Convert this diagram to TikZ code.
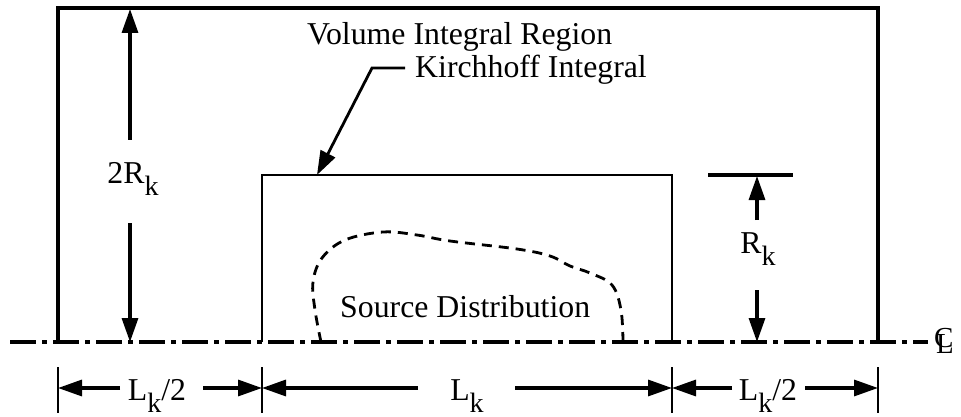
\documentclass[tikz,border=0pt]{standalone}
\usepackage{fontspec}
\setmainfont{Liberation Serif}
\usetikzlibrary{arrows.meta}
\newcommand{\ksub}{\raisebox{-12pt}{\fontsize{28}{28}\selectfont k}}
\begin{document}
\begin{tikzpicture}[x=1pt,y=-1pt,
  lbl/.style={font=\fontsize{31.8}{36}\selectfont, inner sep=0pt},
  boxline/.style={line width=3.4pt, line join=miter},
  dimarrow/.style={line width=3.2pt,-{Triangle[length=24pt,width=16pt]}},
  tickline/.style={line width=2.8pt},
  cline/.style={line width=3.2pt, dash pattern=on 26pt off 6pt on 5pt off 6pt},
  srcline/.style={line width=2.8pt, dash pattern=on 10pt off 7pt}]
\useasboundingbox (0,0) rectangle (961,417);
% boxes
\coordinate (o1) at (58,342); \coordinate (o2) at (58,8);
\coordinate (o3) at (878,8);  \coordinate (o4) at (878,342);
\coordinate (i1) at (262,342); \coordinate (i2) at (262,175);
\coordinate (i3) at (672,175); \coordinate (i4) at (672,342);
\draw[boxline] (o1) -- (o2) -- (o3) -- (o4);
\draw[boxline, line width=2.8pt] (i1) -- (i2) -- (i3) -- (i4);
% centerline
\coordinate (cl0) at (10,342); \coordinate (cl1) at (928,342);
\draw[cline] (cl0) -- (cl1);
\node[lbl, anchor=base west, font=\fontsize{29}{30}\selectfont] (clsym) at (934,347) {\rlap{C}\hspace{2pt}\raisebox{-6pt}{L}};
% labels
\node[lbl, anchor=base west] (vol) at (307,45) {Volume Integral Region};
\node[lbl, anchor=base west] (kir) at (415,78) {Kirchhoff Integral};
\node[lbl, anchor=base west] (src) at (340,317) {Source Distribution};
\node[lbl, anchor=base] (l2r) at (133,183) {2R\ksub};
\node[lbl, anchor=base] (lr) at (758,253) {R\ksub};
\node[lbl, anchor=base] (lh1) at (157,400) {L\ksub/2};
\node[lbl, anchor=base] (lk) at (467,400) {L\ksub};
\node[lbl, anchor=base] (lh2) at (768,400) {L\ksub/2};
% Kirchhoff leader
\coordinate (k0) at (405,68); \coordinate (k1) at (372,68); \coordinate (k2) at (317,175);
\draw[dimarrow, line width=2.8pt, line join=miter] (k0) -- (k1) -- (k2);
% 2Rk dimension
\coordinate (a1) at (130,140); \coordinate (a2) at (130,9);
\coordinate (a3) at (130,223); \coordinate (a4) at (130,342);
\draw[dimarrow] (a1) -- (a2);
\draw[dimarrow] (a3) -- (a4);
% Rk dimension
\coordinate (r0) at (708,175); \coordinate (r5) at (793,175);
\draw[line width=3.4pt] (r0) -- (r5);
\coordinate (r1) at (757,220); \coordinate (r2) at (757,176);
\coordinate (r3) at (757,290); \coordinate (r4) at (757,342);
\draw[dimarrow] (r1) -- (r2);
\draw[dimarrow] (r3) -- (r4);
% bottom ticks
\foreach \x/\n in {58/t1,262/t2,672/t3,878/t4}{
  \coordinate (\n a) at (\x,367); \coordinate (\n b) at (\x,413);
  \draw[tickline] (\n a) -- (\n b);
  \coordinate (\n) at (\x,388);
}
\coordinate (b1) at (120,388); \coordinate (b2) at (203,388);
\coordinate (b3) at (418,388); \coordinate (b4) at (515,388);
\coordinate (b5) at (732,388); \coordinate (b6) at (805,388);
\draw[dimarrow] (b1) -- (t1);
\draw[dimarrow] (b2) -- (t2);
\draw[dimarrow] (b3) -- (t2);
\draw[dimarrow] (b4) -- (t3);
\draw[dimarrow] (b5) -- (t3);
\draw[dimarrow] (b6) -- (t4);
% source distribution curve
\draw[srcline] plot[smooth, tension=0.6] coordinates {(321,342) (315,310) (313,282) (322,258) (345,240) (383,232) (417,235) (450,241) (517,249) (550,256) (570,266) (590,273) (612,285) (621,310) (623,342)};
\end{tikzpicture}
\end{document}
